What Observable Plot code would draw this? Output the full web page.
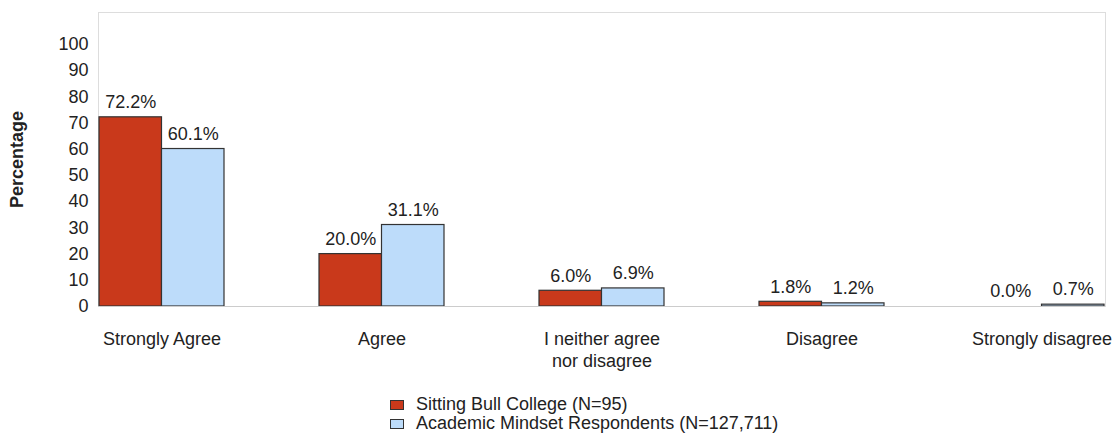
<!DOCTYPE html>
<html>
<head>
<meta charset="utf-8">
<script src="https://cdn.jsdelivr.net/npm/d3@7"></script>
<script src="https://cdn.jsdelivr.net/npm/@observablehq/plot@0.6"></script>
<style>
  body { margin: 0; background: #fff; font-family: "Liberation Sans", Arial, sans-serif; }
  #legend { padding-left: 390px; margin-top: 15px; font-size: 18px; color: #222; line-height: 19px; }
  .item { display: flex; align-items: center; }
  .sw { width: 12px; height: 8px; border: 1px solid #333; margin-right: 12px; }
</style>
</head>
<body>
<div id="chart"></div>
<div id="legend"></div>
<script>
const categories = ["Strongly Agree", "Agree", "I neither agree\nnor disagree", "Disagree", "Strongly disagree"];
const sittingBull = [72.2, 20.0, 6.0, 1.8, 0.0];
const academic = [60.1, 31.1, 6.9, 1.2, 0.7];
const seriesNames = ["Sitting Bull College (N=95)", "Academic Mindset Respondents (N=127,711)"];
const seriesColors = ["#c9391b", "#bddcfa"];
const yTicks = [0, 10, 20, 30, 40, 50, 60, 70, 80, 90, 100];

const rowsA = categories.map((c, i) => ({category: c, value: sittingBull[i]}));
const rowsB = categories.map((c, i) => ({category: c, value: academic[i]}));
const half = 62.5;

const chart = Plot.plot({
  width: 1115,
  height: 380,
  marginLeft: 98,
  marginRight: 10,
  marginTop: 12,
  marginBottom: 74,
  style: {fontFamily: "'Liberation Sans', Arial, sans-serif", fontSize: "18px", color: "#222"},
  x: {domain: categories, paddingInner: 0.433, paddingOuter: 0, label: null},
  y: {domain: [0, 112.2], label: null},
  marks: [
    Plot.frame({stroke: "#ddd"}),
    Plot.barY(rowsA, {x: "category", y: "value", fill: seriesColors[0], stroke: "#333", strokeWidth: 1.2, insetRight: half}),
    Plot.barY(rowsB, {x: "category", y: "value", fill: seriesColors[1], stroke: "#333", strokeWidth: 1.2, insetLeft: half}),
    Plot.ruleY([0], {stroke: "#ccc"}),
    Plot.text(rowsA, {x: "category", y: "value", text: d => d.value.toFixed(1) + "%", dx: -half / 2, dy: -15, fontSize: 18, fill: "#222"}),
    Plot.text(rowsB, {x: "category", y: "value", text: d => d.value.toFixed(1) + "%", dx: half / 2, dy: -15, fontSize: 18, fill: "#222"}),
    Plot.axisY({ticks: yTicks, tickSize: 0, tickPadding: 10, fontSize: 18, label: null}),
    Plot.axisX({tickSize: 0, tickPadding: 24, fontSize: 18, lineHeight: 1.17, label: null}),
    Plot.text(["Percentage"], {frameAnchor: "left", dx: -81, rotate: -90, textAnchor: "middle", fontWeight: "bold", fontSize: 18, fill: "#222"})
  ]
});
document.getElementById("chart").appendChild(chart);

const legend = document.getElementById("legend");
seriesNames.forEach((name, i) => {
  const item = document.createElement("div");
  item.className = "item";
  const sw = document.createElement("span");
  sw.className = "sw";
  sw.style.background = seriesColors[i];
  item.appendChild(sw);
  item.appendChild(document.createTextNode(name));
  legend.appendChild(item);
});
</script>
</body>
</html>
